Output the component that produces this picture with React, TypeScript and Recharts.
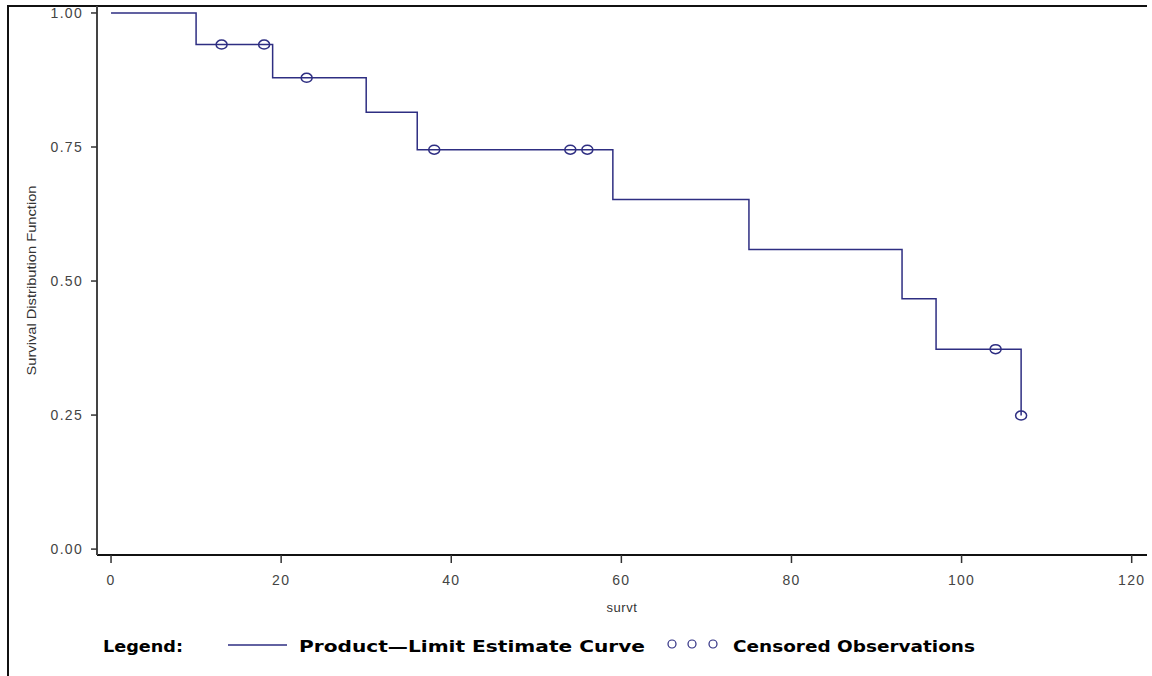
import React from "react";
import { ComposedChart, Line, Scatter, XAxis, YAxis } from "recharts";

// Product-limit (Kaplan-Meier) estimate: event times and survival after each step
const curveTimes = [0, 10, 19, 30, 36, 59, 75, 93, 97, 107];
const curveSurvival = [1.0, 0.941, 0.879, 0.815, 0.745, 0.652, 0.559, 0.467, 0.373, 0.249];

// Censored observations
const censorTimes = [13, 18, 23, 38, 54, 56, 104, 107];
const censorSurvival = [0.941, 0.941, 0.879, 0.745, 0.745, 0.745, 0.373, 0.249];

const xTicks = [0, 20, 40, 60, 80, 100, 120];
const yTicks = [0, 0.25, 0.5, 0.75, 1.0];
const yTickLabels = ["0.00", "0.25", "0.50", "0.75", "1.00"];

const curveData = curveTimes.map((t, i) => ({ t, s: curveSurvival[i] }));
const censorData = censorTimes.map((t, i) => ({ t, s: censorSurvival[i] }));

const BLUE = "#2e2e82";

const CensorMark = (props: any) => {
  const { cx, cy } = props;
  if (cx == null || cy == null) return null;
  return <ellipse cx={cx} cy={cy} rx={5.5} ry={4.5} fill="none" stroke={BLUE} strokeWidth={1.5} />;
};

const YLabel = (props: any) => {
  const vb = props.viewBox || {};
  const x = 31;
  const y = vb.y + vb.height / 2;
  return (
    <text
      x={x}
      y={y}
      transform={`rotate(-90 ${x} ${y})`}
      textAnchor="middle"
      dominantBaseline="central"
      fontFamily="'Liberation Sans Narrow', 'Liberation Sans', Arial, sans-serif"
      fontSize={13}
      fill="#333"
      textLength={190}
      lengthAdjust="spacingAndGlyphs"
    >
      Survival Distribution Function
    </text>
  );
};

export default function App() {
  const tickStyle = {
    fontFamily: "'Liberation Sans', Arial, sans-serif",
    fontSize: 14,
    fill: "#444",
    letterSpacing: 1.3,
  };
  const legendFont = "'DejaVu Sans', 'Liberation Sans', Arial, sans-serif";
  return (
    <div style={{ position: "absolute", left: 0, top: 0, width: 1152, height: 676, background: "#fff" }}>
      <div
        style={{
          position: "absolute",
          left: 7,
          top: 5,
          width: 1140,
          height: 690,
          borderLeft: "2px solid #111",
          borderTop: "2px solid #111",
          boxSizing: "border-box",
        }}
      />
      <div style={{ position: "absolute", left: 0, top: 0 }}>
        <ComposedChart width={1152} height={676} margin={{ top: 6, right: 5, bottom: 0, left: 0 }}>
          <XAxis
            dataKey="t"
            type="number"
            domain={[-1.65, 121.8]}
            ticks={xTicks}
            allowDataOverflow
            height={121}
            tickSize={8}
            tickMargin={12}
            tick={tickStyle}
            axisLine={{ stroke: "#111", strokeWidth: 2 }}
            tickLine={{ stroke: "#333", strokeWidth: 1.5 }}
            label={{
              value: "survt",
              position: "insideTop",
              offset: 48,
              style: { fontFamily: "'Liberation Sans', Arial, sans-serif", fontSize: 13, fill: "#333", letterSpacing: 0.6 },
            }}
          />
          <YAxis
            yAxisId="l"
            dataKey="s"
            type="number"
            domain={[-0.011, 1.013]}
            ticks={yTicks}
            allowDataOverflow
            width={97}
            tickSize={6}
            tickMargin={8}
            tick={tickStyle}
            tickFormatter={(v: number) => yTickLabels[yTicks.indexOf(v)] ?? String(v)}
            axisLine={{ stroke: "#444", strokeWidth: 2 }}
            tickLine={{ stroke: "#333", strokeWidth: 1.5 }}
            label={{ content: YLabel }}
          />
          <YAxis
            yAxisId="r"
            orientation="right"
            type="number"
            domain={[0, 1]}
            width={0}
            tick={false}
            tickLine={false}
            axisLine={{ stroke: "#333", strokeWidth: 2 }}
          />
          <Line
            yAxisId="l"
            data={curveData}
            dataKey="s"
            type="stepAfter"
            stroke={BLUE}
            strokeWidth={1.5}
            dot={false}
            activeDot={false}
            isAnimationActive={false}
          />
          <Scatter
            yAxisId="l"
            data={censorData}
            dataKey="s"
            shape={CensorMark}
            isAnimationActive={false}
          />
        </ComposedChart>
      </div>
      <svg
        width={1152}
        height={676}
        style={{ position: "absolute", left: 0, top: 0, pointerEvents: "none" }}
      >
        <text x={103} y={652} fontFamily={legendFont} fontWeight="bold" fontSize={15} fill="#000" textLength={80} lengthAdjust="spacingAndGlyphs">
          Legend:
        </text>
        <line x1={228} y1={645} x2={287} y2={645} stroke={BLUE} strokeWidth={1.3} />
        <text x={299} y={652} fontFamily={legendFont} fontWeight="bold" fontSize={15} fill="#000" textLength={346} lengthAdjust="spacingAndGlyphs">
          Product—Limit Estimate Curve
        </text>
        <ellipse cx={672} cy={644} rx={4} ry={4} fill="none" stroke={BLUE} strokeWidth={1.2} />
        <ellipse cx={692} cy={644} rx={4} ry={4} fill="none" stroke={BLUE} strokeWidth={1.2} />
        <ellipse cx={713} cy={644} rx={4} ry={4} fill="none" stroke={BLUE} strokeWidth={1.2} />
        <text x={733} y={652} fontFamily={legendFont} fontWeight="bold" fontSize={15} fill="#000" textLength={242} lengthAdjust="spacingAndGlyphs">
          Censored Observations
        </text>
      </svg>
    </div>
  );
}
